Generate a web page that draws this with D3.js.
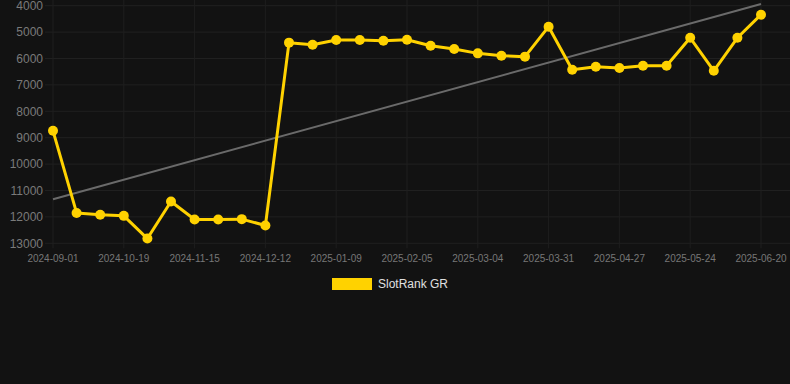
<!DOCTYPE html>
<html>
<head>
<meta charset="utf-8">
<script src="https://cdn.jsdelivr.net/npm/d3@7"></script>
<style>
  html, body { margin: 0; padding: 0; background: #121212; }
  svg { display: block; font-family: Arial, "Liberation Sans", sans-serif; }
</style>
</head>
<body>
<svg id="chart"></svg>
<script>
const WIDTH = 790;
const HEIGHT = 384;

// category labels (only every third one is shown on the axis)
const dates = [
    "2024-09-01", "2024-09-17", "2024-10-03", "2024-10-19", "2024-10-28", "2024-11-06",
    "2024-11-15", "2024-11-24", "2024-12-03", "2024-12-12", "2024-12-21", "2024-12-31",
    "2025-01-09", "2025-01-18", "2025-01-27", "2025-02-05", "2025-02-14", "2025-02-23",
    "2025-03-04", "2025-03-13", "2025-03-22", "2025-03-31", "2025-04-09", "2025-04-18",
    "2025-04-27", "2025-05-06", "2025-05-15", "2025-05-24", "2025-06-02", "2025-06-11",
    "2025-06-20"
];

// SlotRank GR values
const rank = [
    8740, 11850, 11920, 11960, 12820, 11415,
    12100, 12100, 12085, 12325, 5400, 5480,
    5300, 5300, 5325, 5290, 5515, 5640,
    5805, 5895, 5930, 4795, 6425, 6310,
    6360, 6275, 6275, 5215, 6465, 5215,
    4340
];

// trend line, first and last value
const trend = [11330, 3935];

const yTicks = [4000, 5000, 6000, 7000, 8000, 9000, 10000, 11000, 12000, 13000];

const margin = { left: 53, right: 29, top: 5.7, bottom: 243.3 };

const svg = d3.select("#chart")
    .attr("width", WIDTH)
    .attr("height", HEIGHT);

svg.append("rect")
    .attr("width", WIDTH)
    .attr("height", HEIGHT)
    .attr("fill", "#121212");

const xScale = d3.scalePoint()
    .domain(dates)
    .range([margin.left, WIDTH - margin.right]);

const yScale = d3.scaleLinear()
    .domain([4000, 13000])
    .range([margin.top, margin.bottom]);

const shownDates = dates.filter((d, i) => i % 3 === 0);

// horizontal grid
svg.append("g")
    .selectAll("line")
    .data(yTicks)
    .join("line")
    .attr("x1", 45)
    .attr("x2", WIDTH)
    .attr("y1", d => yScale(d))
    .attr("y2", d => yScale(d))
    .attr("stroke", "#202020")
    .attr("stroke-width", 1);

// vertical grid
svg.append("g")
    .selectAll("line")
    .data(shownDates)
    .join("line")
    .attr("x1", d => xScale(d))
    .attr("x2", d => xScale(d))
    .attr("y1", 0)
    .attr("y2", margin.bottom + 5)
    .attr("stroke", "#1e1e1e")
    .attr("stroke-width", 1);

// y labels
svg.append("g")
    .selectAll("text")
    .data(yTicks)
    .join("text")
    .attr("x", 43)
    .attr("y", d => yScale(d))
    .attr("dy", "0.35em")
    .attr("text-anchor", "end")
    .attr("font-size", 12)
    .attr("fill", "#7a7a7a")
    .text(d => d);

// x labels
svg.append("g")
    .selectAll("text")
    .data(shownDates)
    .join("text")
    .attr("x", d => xScale(d))
    .attr("y", 262)
    .attr("text-anchor", "middle")
    .attr("font-size", 10)
    .attr("fill", "#777")
    .text(d => d);

// trend line
svg.append("line")
    .attr("x1", xScale(dates[0]))
    .attr("x2", xScale(dates[dates.length - 1]))
    .attr("y1", yScale(trend[0]))
    .attr("y2", yScale(trend[1]))
    .attr("stroke", "#6a6a6a")
    .attr("stroke-width", 2);

const line = d3.line()
    .x((d, i) => xScale(dates[i]))
    .y(d => yScale(d));

svg.append("path")
    .datum(rank)
    .attr("d", line)
    .attr("fill", "none")
    .attr("stroke", "#FFD200")
    .attr("stroke-width", 3)
    .attr("stroke-linejoin", "round");

svg.append("g")
    .selectAll("circle")
    .data(rank)
    .join("circle")
    .attr("cx", (d, i) => xScale(dates[i]))
    .attr("cy", d => yScale(d))
    .attr("r", 5)
    .attr("fill", "#FFD200");

// legend
const legend = svg.append("g");
legend.append("rect")
    .attr("x", 332)
    .attr("y", 278)
    .attr("width", 40)
    .attr("height", 12)
    .attr("fill", "#FFD200");
legend.append("text")
    .attr("x", 378)
    .attr("y", 284)
    .attr("dy", "0.35em")
    .attr("font-size", 12)
    .attr("fill", "#e0e0e0")
    .text("SlotRank GR");
</script>
</body>
</html>
